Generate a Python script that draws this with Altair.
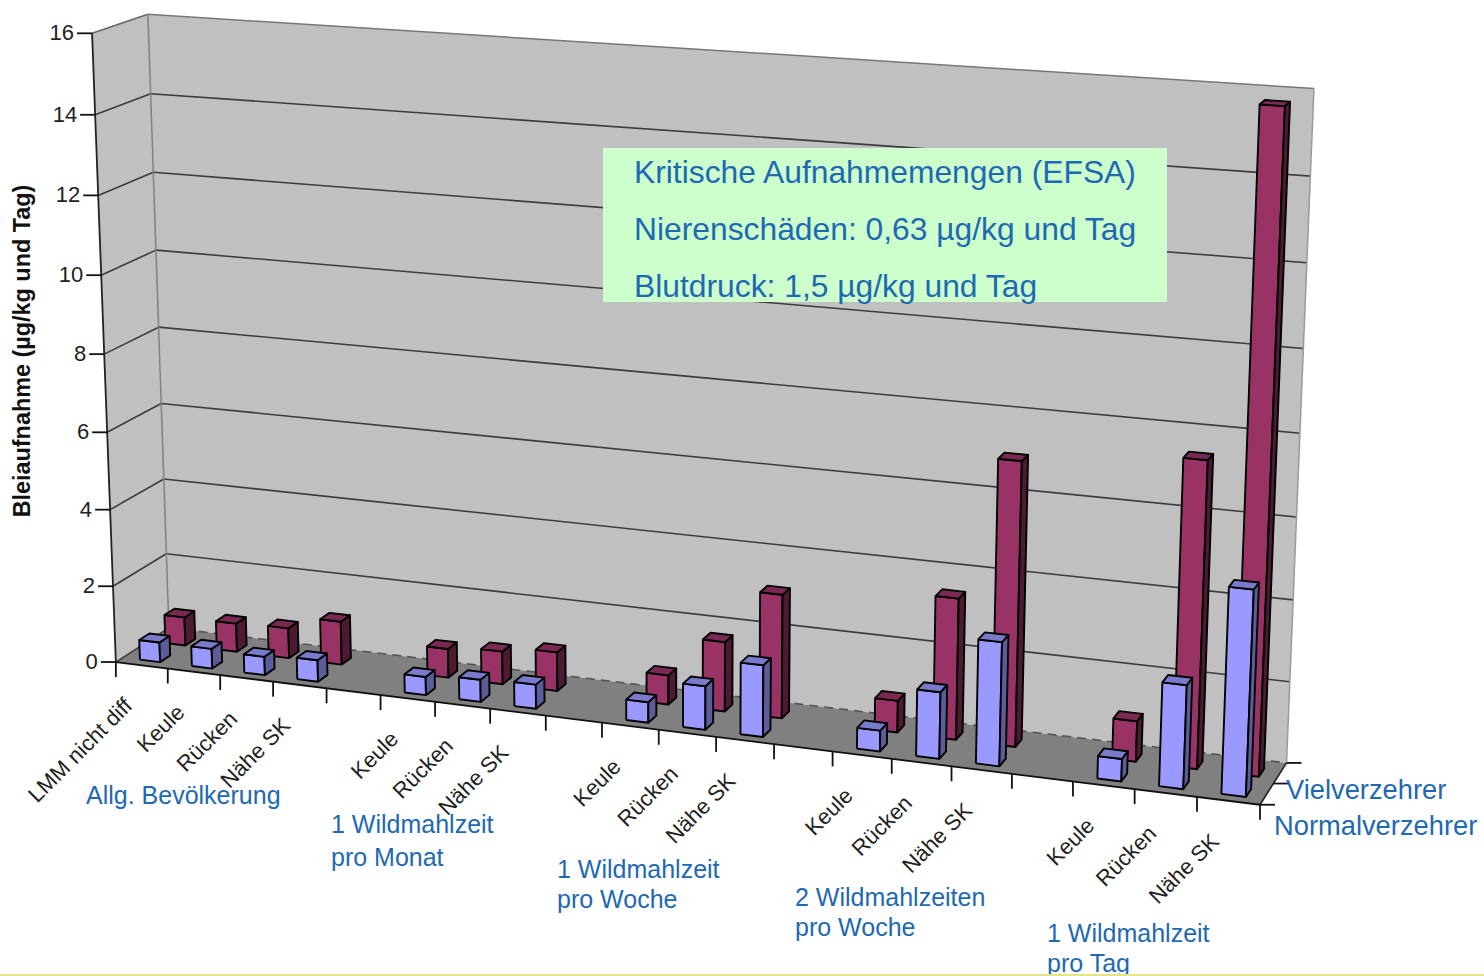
import altair as alt
import numpy as np
import pandas as pd

# Bleiaufnahme in µg/kg und Tag, je Kategorie
categories = ["LMM nicht diff", "Keule", "Rücken", "Nähe SK", "",
              "Keule", "Rücken", "Nähe SK", "",
              "Keule", "Rücken", "Nähe SK", "",
              "Keule", "Rücken", "Nähe SK", "",
              "Keule", "Rücken", "Nähe SK"]
normalverzehrer = [0.52, 0.52, 0.48, 0.56, None,
                   0.47, 0.57, 0.62, None,
                   0.52, 1.1, 1.8, None,
                   0.52, 1.65, 3.05, None,
                   0.55, 2.52, 4.97]
vielverzehrer = [0.75, 0.75, 0.79, 1.13, None,
                 0.75, 0.85, 1.0, None,
                 0.75, 1.77, 3.13, None,
                 0.8, 3.52, 7.03, None,
                 1.0, 7.48, 15.78]
y_ticks = [0, 2, 4, 6, 8, 10, 12, 14, 16]

W, H = 1484, 976
N = len(categories)
VMAX = 16

# Perspective camera of the 3-D chart box: (category, value, depth) -> page pixel
anchors = [
    ((0, 0, 0), (116, 662)), ((0, 16, 0), (92, 33)),
    ((0, 2, 0), (113, 587)), ((0, 14, 0), (95, 115)),
    ((0, 8, 0), (105, 353)),
    ((0, 0, 1), (168.5, 628)), ((0, 16, 1), (148, 13)),
    ((0, 2, 1), (166.5, 553)), ((0, 8, 1), (158.5, 328)),
    ((0, 14, 1), (150.5, 95)),
    ((20, 0, 0), (1260, 805)), ((10, 0, 0), (658, 730)),
    ((20, 0, 1), (1287, 761)), ((20, 2, 1), (1290, 683)),
    ((20, 14, 1), (1310, 177)), ((20, 16, 1), (1314, 88)),
]
rows = []
for (c, v, d), (px, py) in anchors:
    rows.append([c, v, d, 1, 0, 0, 0, 0, -px * c, -px * v, -px * d, -px])
    rows.append([0, 0, 0, 0, c, v, d, 1, -py * c, -py * v, -py * d, -py])
camera = np.linalg.svd(np.array(rows, float))[2][-1].reshape(3, 4)


def project(c, v, d):
    p = camera @ np.array([c, v, d, 1.0])
    return p[0] / p[2], p[1] / p[2]


poly_rows = []


def add_poly(name, fill, corners):
    """Closed outline through the given (category, value, depth) corners."""
    pts = list(corners) + [corners[0]]
    for i, (c, v, d) in enumerate(pts):
        x, y = project(c, v, d)
        poly_rows.append({"id": name, "fill": fill, "i": i, "x": x, "y": y})


# Walls and floor of the box
add_poly("wall_left", "#C0C0C0", [(0, 0, 0), (0, VMAX, 0), (0, VMAX, 1), (0, 0, 1)])
add_poly("wall_back", "#C0C0C0", [(0, 0, 1), (0, VMAX, 1), (N, VMAX, 1), (N, 0, 1)])
add_poly("floor", "#808080", [(0, 0, 0), (0, 0, 1), (N, 0, 1), (N, 0, 0)])
walls = pd.DataFrame(poly_rows)
poly_rows.clear()

# Gridlines and box edges
line_rows = []


def add_line(name, color, width, a, b):
    for i, p in enumerate((a, b)):
        x, y = p
        line_rows.append({"id": name, "color": color, "w": width, "i": i, "x": x, "y": y})


for v in y_ticks[1:-1]:
    add_line(f"gl{v}", "#3c3c3c", 1.6, project(0, v, 0), project(0, v, 1))
    add_line(f"gb{v}", "#3c3c3c", 1.6, project(0, v, 1), project(N, v, 1))
add_line("edge_top_l", "#666666", 1.5, project(0, VMAX, 0), project(0, VMAX, 1))
add_line("edge_top", "#777777", 1.5, project(0, VMAX, 1), project(N, VMAX, 1))
add_line("edge_back_l", "#808080", 1.5, project(0, 0, 1), project(0, VMAX, 1))
add_line("edge_right", "#999999", 1.5, project(N, 0, 1), project(N, VMAX, 1))
add_line("edge_floor_l", "#3c3c3c", 1.5, project(0, 0, 0), project(0, 0, 1))
add_line("edge_front_l", "#222222", 1.8, project(0, 0, 0), project(0, VMAX, 0))
add_line("edge_front", "#111111", 1.8, project(0, 0, 0), project(N, 0, 0))
add_line("edge_floor_r", "#222222", 1.6, project(N, 0, 0), project(N, 0, 1))

# Tick marks on all three axes
for c in range(N + 1):
    x, y = project(c, 0, 0)
    add_line(f"tc{c}", "#111111", 1.8, (x, y), (x, y + 15))
for v in y_ticks:
    x, y = project(0, v, 0)
    add_line(f"tv{v}", "#111111", 1.8, (x - 15, y), (x, y))
for d in (0, 0.5, 1):
    x, y = project(N, 0, d)
    add_line(f"td{d}", "#111111", 1.8, (x, y), (x + 15, y))
lines = pd.DataFrame(line_rows)

# Bars: back row first, left to right within a row
BAR_L, BAR_R = 0.33, 0.72


def add_bars(values, d0, d1, front, side, top, tag):
    for k, v in enumerate(values):
        if v is None:
            continue
        l, r = k + BAR_L, k + BAR_R
        add_poly(f"{tag}{k:02d}f", front, [(l, 0, d0), (l, v, d0), (r, v, d0), (r, 0, d0)])
        add_poly(f"{tag}{k:02d}s", side, [(r, 0, d0), (r, v, d0), (r, v, d1), (r, 0, d1)])
        add_poly(f"{tag}{k:02d}t", top, [(l, v, d0), (l, v, d1), (r, v, d1), (r, v, d0)])


add_bars(vielverzehrer, 0.61, 0.80, "#993366", "#4D1A33", "#7A2952", "a")
add_bars(normalverzehrer, 0.13, 0.32, "#9999FF", "#5C5C99", "#7A7ACC", "b")
bars = pd.DataFrame(poly_rows)

# Tick label tables, positioned from the same camera
cat_labels = []
for k, name in enumerate(categories):
    if name:
        x, y = project(k + 0.5, 0, 0)
        cat_labels.append({"t": name, "x": x - 13, "y": y + 37})
cat_labels = pd.DataFrame(cat_labels)
val_labels = pd.DataFrame(
    [{"t": str(v), "x": project(0, v, 0)[0] - 18, "y": project(0, v, 0)[1]} for v in y_ticks]
)

x_enc = alt.X("x:Q", axis=None, scale=alt.Scale(domain=[0, W], nice=False, zero=False))
y_enc = alt.Y("y:Q", axis=None, scale=alt.Scale(domain=[H, 0], range=[H, 0], nice=False, zero=False))


def polygons(df, stroke, width):
    props = {"stroke": stroke, "strokeWidth": width} if stroke else {"strokeWidth": 0}
    return alt.Chart(df).mark_line(strokeJoin="round", **props).encode(
        x=x_enc, y=y_enc, order="i:Q", detail="id:N",
        fill=alt.Fill("fill:N", scale=None),
    )


wall_layer = polygons(walls, None, 0)
grid_layer = alt.Chart(lines).mark_line().encode(
    x=x_enc, y=y_enc, order="i:Q", detail="id:N",
    stroke=alt.Stroke("color:N", scale=None),
    strokeWidth=alt.StrokeWidth("w:Q", scale=None),
)

# Dashed rear edge of the floor
floor_back = pd.DataFrame(
    [{"i": i, "x": p[0], "y": p[1]} for i, p in enumerate((project(0, 0, 1), project(N, 0, 1)))]
)
dash_layer = alt.Chart(floor_back).mark_line(
    stroke="#555555", strokeWidth=1.6, strokeDash=[9, 6]
).encode(x=x_enc, y=y_enc, order="i:Q")

bar_layer = polygons(bars, "#000000", 1.9)

FONT = "Liberation Sans"
BLUE = "#2069B2"

cat_layer = alt.Chart(cat_labels).mark_text(
    font=FONT, fontSize=22, angle=315, align="right", baseline="middle", color="#222222"
).encode(x=x_enc, y=y_enc, text="t:N")
val_layer = alt.Chart(val_labels).mark_text(
    font=FONT, fontSize=22, align="right", baseline="middle", color="#222222"
).encode(x=x_enc, y=y_enc, text="t:N")


def label(text, x, y, size, color=BLUE, **kw):
    return alt.Chart(alt.Data(values=[{"t": text}])).mark_text(
        font=FONT, fontSize=size, color=color, align=kw.pop("align", "left"),
        baseline="alphabetic", **kw
    ).encode(x=alt.value(x), y=alt.value(y), text="t:N")


box = alt.Chart(alt.Data(values=[{"a": 1}])).mark_rect(color="#CCFFCC").encode(
    x=alt.value(603), x2=alt.value(1167), y=alt.value(148), y2=alt.value(302)
)
bottom_rule = alt.Chart(alt.Data(values=[{"a": 1}])).mark_rect(color="#E4E48A").encode(
    x=alt.value(0), x2=alt.value(W), y=alt.value(974), y2=alt.value(976)
)

texts = [
    label("Kritische Aufnahmemengen (EFSA)", 634, 183, 31.8),
    label("Nierenschäden: 0,63 µg/kg und Tag", 634, 240, 31.8),
    label("Blutdruck: 1,5 µg/kg und Tag", 634, 297, 31.8),
    label("Allg. Bevölkerung", 86, 804, 25),
    label("1 Wildmahlzeit", 331, 833, 25),
    label("pro Monat", 331, 866, 25),
    label("1 Wildmahlzeit", 557, 878, 25),
    label("pro Woche", 557, 908, 25),
    label("2 Wildmahlzeiten", 795, 906, 25),
    label("pro Woche", 795, 936, 25),
    label("1 Wildmahlzeit", 1047, 942, 25),
    label("pro Tag", 1047, 972, 25),
    label("Vielverzehrer", 1286, 799, 27.3),
    label("Normalverzehrer", 1274, 835, 27.3),
    label("Bleiaufnahme (µg/kg und Tag)", 30, 351, 23.4, color="#111111",
          angle=270, align="center", fontWeight="bold"),
]

chart = alt.layer(
    wall_layer, grid_layer, dash_layer, bar_layer, box, cat_layer, val_layer, *texts, bottom_rule
).properties(
    width=W, height=H, padding=0, background="#FFFFFF", autosize=alt.AutoSizeParams(type="none")
).configure_view(stroke=None)

chart.save("out.html", embed_options={"renderer": "svg", "actions": False})
